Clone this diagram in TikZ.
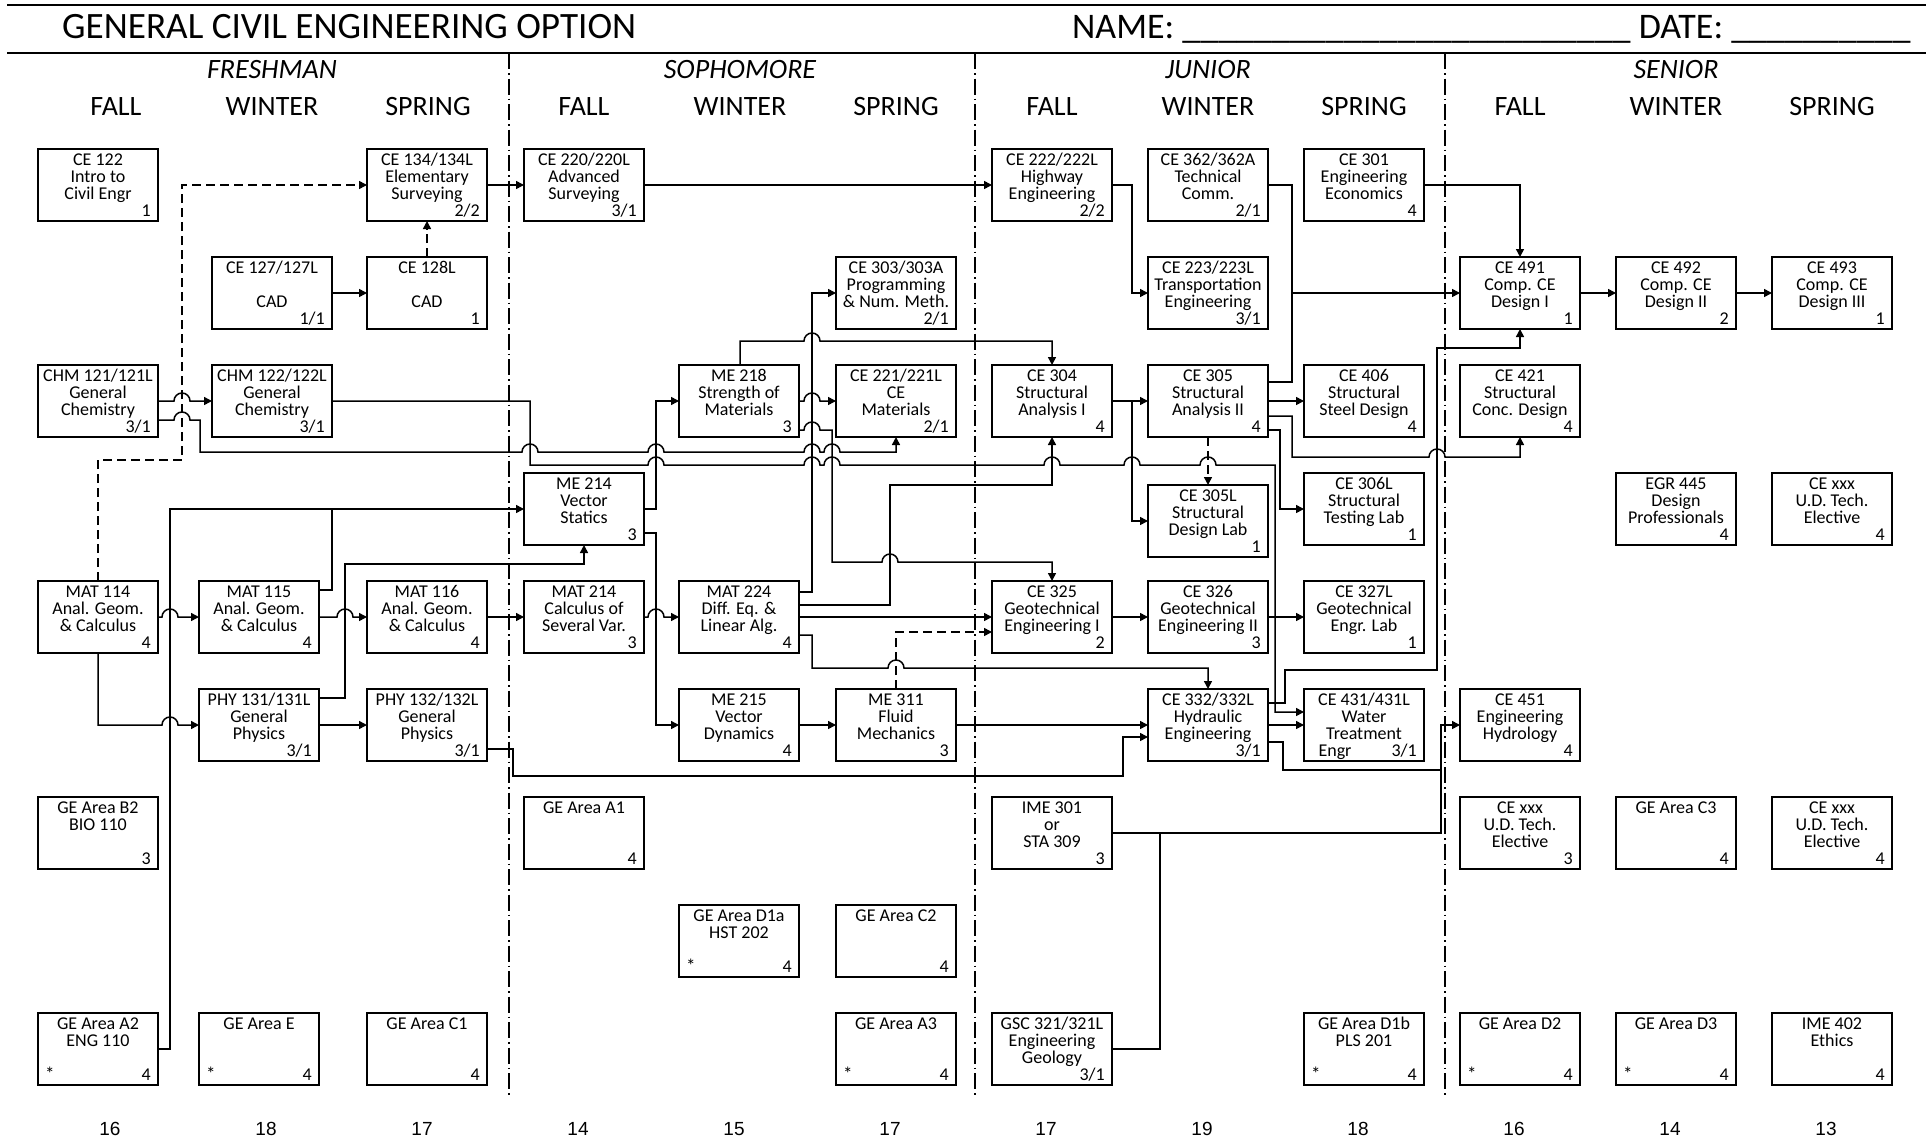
\documentclass[tikz,border=0pt]{standalone}
\usepackage{fontspec}
\setmainfont{Carlito}
\newfontfamily\arialf{Liberation Sans}
\usetikzlibrary{arrows.meta,calc}
\tikzset{
  cbox/.style={draw, line width=1.7pt, minimum width=120pt, minimum height=72pt, inner sep=0pt, outer sep=0pt},
  ctx/.style={anchor=base, inner sep=0pt, font=\fontsize{18}{20}\selectfont},
  ccred/.style={anchor=base east, inner sep=0pt, font=\fontsize{18}{20}\selectfont},
  cstar/.style={anchor=base west, inner sep=0pt, font=\fontsize{19}{20}\selectfont},
  conn/.style={line width=1.5pt, -{Triangle[length=8pt,width=8pt]}},
  link/.style={line width=1.5pt},
  dashconn/.style={conn, dash pattern=on 9pt off 5pt},
  divider/.style={line width=1.4pt, dash pattern=on 16pt off 4pt on 1.5pt off 4pt},
  season/.style={anchor=base, inner sep=0pt, font=\fontsize{28}{30}\selectfont},
  yearlbl/.style={anchor=base, inner sep=0pt, font=\fontsize{28}{30}\selectfont\itshape},
  total/.style={anchor=base, inner sep=0pt, font=\arialf\fontsize{19}{21}\selectfont},
  head/.style={anchor=base west, inner sep=0pt, font=\fontsize{36}{40}\selectfont},
  titlestyle/.style={anchor=base west, inner sep=0pt, font=\fontsize{37.2}{40}\selectfont},
}
% name, x-left, y-top, line1, line2, line3, credits, star
\newcommand\crs[8]{%
  \node[cbox] (#1) at (#2+60,-#3-36) {};
  \node[ctx] (#1-a) at ([yshift=-16.7pt]#1.north) {#4};
  \node[ctx] (#1-b) at ([yshift=-33.3pt]#1.north) {#5};
  \node[ctx] (#1-c) at ([yshift=-50pt]#1.north) {#6};
  \node[ccred] (#1-k) at ([xshift=-7pt,yshift=4.5pt]#1.south east) {#7};
  \node[cstar] (#1-s) at ([xshift=7pt,yshift=4.5pt]#1.south west) {#8};
}
\begin{document}
\begin{tikzpicture}[x=1pt,y=1pt]
\fill[white] (0,0) rectangle (1929,-1140);
\useasboundingbox (0,0) rectangle (1929,-1140);

% header
\draw[line width=2pt] (7,-5) -- (1926,-5);
\draw[line width=2pt] (7,-53) -- (1926,-53);
\node[titlestyle] (title) at (62,-38) {GENERAL CIVIL ENGINEERING OPTION};
\node[head] (namedate) at (1072,-38) {NAME: \_\_\_\_\_\_\_\_\_\_\_\_\_\_\_\_\_\_\_\_\_\_\_\_\_ DATE: \_\_\_\_\_\_\_\_\_\_};

\node[yearlbl] (yr1) at (272,-78) {FRESHMAN};
\node[yearlbl] (yr2) at (740,-78) {SOPHOMORE};
\node[yearlbl] (yr3) at (1208,-78) {JUNIOR};
\node[yearlbl] (yr4) at (1676,-78) {SENIOR};
\foreach \s [count=\i] in {FALL,WINTER,SPRING,FALL,WINTER,SPRING,FALL,WINTER,SPRING,FALL,WINTER,SPRING}
  \node[season] (s\i) at ({116+156*(\i-1)},-115) {\s};
\foreach \t [count=\i] in {16,18,17,14,15,17,17,19,18,16,14,13}
  \node[total] (t\i) at ({110+156*(\i-1)},-1135) {\t};

% dividers
\draw[divider] (509,-53) -- (509,-1095);
\draw[divider] (975,-53) -- (975,-1095);
\draw[divider] (1445,-53) -- (1445,-1095);

% row 1
\crs{c122}{38}{149}{CE 122}{Intro to}{Civil Engr}{1}{}
\crs{c134}{367}{149}{CE 134/134L}{Elementary}{Surveying}{2/2}{}
\crs{c220}{524}{149}{CE 220/220L}{Advanced}{Surveying}{3/1}{}
\crs{c222}{992}{149}{CE 222/222L}{Highway}{Engineering}{2/2}{}
\crs{c362}{1148}{149}{CE 362/362A}{Technical}{Comm.}{2/1}{}
\crs{c301}{1304}{149}{CE 301}{Engineering}{Economics}{4}{}
% row 2
\crs{c127}{212}{257}{CE 127/127L}{}{CAD}{1/1}{}
\crs{c128}{367}{257}{CE 128L}{}{CAD}{1}{}
\crs{c303}{836}{257}{CE 303/303A}{Programming}{\& Num. Meth.}{2/1}{}
\crs{c223}{1148}{257}{CE 223/223L}{Transportation}{Engineering}{3/1}{}
\crs{c491}{1460}{257}{CE 491}{Comp. CE}{Design I}{1}{}
\crs{c492}{1616}{257}{CE 492}{Comp. CE}{Design II}{2}{}
\crs{c493}{1772}{257}{CE 493}{Comp. CE}{Design III}{1}{}
% row 3
\crs{chm121}{38}{365}{CHM 121/121L}{General}{Chemistry}{3/1}{}
\crs{chm122}{212}{365}{CHM 122/122L}{General}{Chemistry}{3/1}{}
\crs{me218}{679}{365}{ME 218}{Strength of}{Materials}{3}{}
\crs{c221}{836}{365}{CE 221/221L}{CE}{Materials}{2/1}{}
\crs{c304}{992}{365}{CE 304}{Structural}{Analysis I}{4}{}
\crs{c305}{1148}{365}{CE 305}{Structural}{Analysis II}{4}{}
\crs{c406}{1304}{365}{CE 406}{Structural}{Steel Design}{4}{}
\crs{c421}{1460}{365}{CE 421}{Structural}{Conc. Design}{4}{}
% row 4
\crs{me214}{524}{473}{ME 214}{Vector}{Statics}{3}{}
\crs{c305L}{1148}{485}{CE 305L}{Structural}{Design Lab}{1}{}
\crs{c306L}{1304}{473}{CE 306L}{Structural}{Testing Lab}{1}{}
\crs{egr445}{1616}{473}{EGR 445}{Design}{Professionals}{4}{}
\crs{cexA}{1772}{473}{CE xxx}{U.D. Tech.}{Elective}{4}{}
% row 5
\crs{mat114}{38}{581}{MAT 114}{Anal. Geom.}{\& Calculus}{4}{}
\crs{mat115}{199}{581}{MAT 115}{Anal. Geom.}{\& Calculus}{4}{}
\crs{mat116}{367}{581}{MAT 116}{Anal. Geom.}{\& Calculus}{4}{}
\crs{mat214}{524}{581}{MAT 214}{Calculus of}{Several Var.}{3}{}
\crs{mat224}{679}{581}{MAT 224}{Diff. Eq. \&}{Linear Alg.}{4}{}
\crs{c325}{992}{581}{CE 325}{Geotechnical}{Engineering I}{2}{}
\crs{c326}{1148}{581}{CE 326}{Geotechnical}{Engineering II}{3}{}
\crs{c327}{1304}{581}{CE 327L}{Geotechnical}{Engr. Lab}{1}{}
% row 6
\crs{phy131}{199}{689}{PHY 131/131L}{General}{Physics}{3/1}{}
\crs{phy132}{367}{689}{PHY 132/132L}{General}{Physics}{3/1}{}
\crs{me215}{679}{689}{ME 215}{Vector}{Dynamics}{4}{}
\crs{me311}{836}{689}{ME 311}{Fluid}{Mechanics}{3}{}
\crs{c332}{1148}{689}{CE 332/332L}{Hydraulic}{Engineering}{3/1}{}
\crs{c431}{1304}{689}{CE 431/431L}{Water}{Treatment}{3/1}{}
\node[ctx] (c431-d) at ([xshift=-29pt,yshift=4.5pt]c431.south) {Engr};
\crs{c451}{1460}{689}{CE 451}{Engineering}{Hydrology}{4}{}
% row 7
\crs{geB2}{38}{797}{GE Area B2}{BIO 110}{}{3}{}
\crs{geA1}{524}{797}{GE Area A1}{}{}{4}{}
\crs{ime301}{992}{797}{IME 301}{or}{STA 309}{3}{}
\crs{cexB}{1460}{797}{CE xxx}{U.D. Tech.}{Elective}{3}{}
\crs{geC3}{1616}{797}{GE Area C3}{}{}{4}{}
\crs{cexC}{1772}{797}{CE xxx}{U.D. Tech.}{Elective}{4}{}
% row 8
\crs{geD1a}{679}{905}{GE Area D1a}{HST 202}{}{4}{*}
\crs{geC2}{836}{905}{GE Area C2}{}{}{4}{}
% row 9
\crs{geA2}{38}{1013}{GE Area A2}{ENG 110}{}{4}{*}
\crs{geE}{199}{1013}{GE Area E}{}{}{4}{*}
\crs{geC1}{367}{1013}{GE Area C1}{}{}{4}{}
\crs{geA3}{836}{1013}{GE Area A3}{}{}{4}{*}
\crs{gsc321}{992}{1013}{GSC 321/321L}{Engineering}{Geology}{3/1}{}
\crs{geD1b}{1304}{1013}{GE Area D1b}{PLS 201}{}{4}{*}
\crs{geD2}{1460}{1013}{GE Area D2}{}{}{4}{*}
\crs{geD3}{1616}{1013}{GE Area D3}{}{}{4}{*}
\crs{ime402}{1772}{1013}{IME 402}{Ethics}{}{4}{}

\coordinate (j362) at (1292,-293);
\coordinate (j451) at (1441,-770);
\coordinate (j214) at (332,-509);
\coordinate (jgsc) at (1160,-833);

% freshman connectors
\draw[dashconn] (mat114.north) -- (98,-460) -- (182,-460) -- (182,-185) -- (c134.west);
\draw[dashconn] (c128.north) -- (c134.south);
\draw[conn] (c127.east) -- (c128.west);
\draw[conn] (c134.east) -- (c220.west);
\draw[conn] (c220.east) -- (c222.west);
\draw[conn] (chm121.east) -- (174,-401) arc[start angle=180,end angle=0,radius=8pt] -- (chm122.west);
\draw[conn] ([yshift=-19pt]chm121.east) -- (174,-420) arc[start angle=180,end angle=0,radius=8pt] -- (200,-420) -- (200,-452)
  -- (522,-452) arc[start angle=180,end angle=0,radius=8pt]
  -- (648,-452) arc[start angle=180,end angle=0,radius=8pt]
  -- (804,-452) arc[start angle=180,end angle=0,radius=8pt]
  -- (824,-452) arc[start angle=180,end angle=0,radius=8pt]
  -- (896,-452) -- (c221.south);
\draw[conn] (chm122.east) -- (530,-401) -- (530,-465)
  -- (648,-465) arc[start angle=180,end angle=0,radius=8pt]
  -- (804,-465) arc[start angle=180,end angle=0,radius=8pt]
  -- (824,-465) arc[start angle=180,end angle=0,radius=8pt]
  -- (1044,-465) arc[start angle=180,end angle=0,radius=8pt]
  -- (1124,-465) arc[start angle=180,end angle=0,radius=8pt]
  -- (1200,-465) arc[start angle=180,end angle=0,radius=8pt]
  -- (1275,-465) -- (1275,-712) -- ([yshift=13pt]c431.west);
\draw[conn] (mat114.east) -- (162,-617) arc[start angle=180,end angle=0,radius=8pt] -- (mat115.west);
\draw[conn] (mat114.south) -- (98,-725) -- (162,-725) arc[start angle=180,end angle=0,radius=8pt] -- (phy131.west);
\draw[conn] (geA2.east) -- (170,-1049) -- (170,-509) -- (me214.west);
\draw[link] ([yshift=27pt]mat115.east) -- (332,-590) -- (j214);
\draw[conn] ([yshift=27pt]phy131.east) -- (345,-698) -- (345,-564) -- (584,-564) -- (me214.south);
\draw[conn] (mat115.east) -- (337,-617) arc[start angle=180,end angle=0,radius=8pt] -- (mat116.west);
\draw[conn] (phy131.east) -- (phy132.west);
\draw[conn] (mat116.east) -- (mat214.west);
\draw[conn] ([yshift=-24pt]phy132.east) -- (513,-749) -- (513,-776) -- (1123,-776) -- (1123,-737) -- ([yshift=-12pt]c332.west);

% sophomore connectors
\draw[conn] (me214.east) -- (656,-509) -- (656,-401) -- (me218.west);
\draw[conn] ([yshift=-24pt]me214.east) -- (656,-533) -- (656,-725) -- (me215.west);
\draw[conn] (mat214.east) -- (648,-617) arc[start angle=180,end angle=0,radius=8pt] -- (mat224.west);
\draw[conn] (me218.east) -- (804,-401) arc[start angle=180,end angle=0,radius=8pt] -- (c221.west);
\draw[conn] ([yshift=-29pt]me218.east) -- (804,-430) arc[start angle=180,end angle=0,radius=8pt] -- (832,-430) -- (832,-562)
  -- (882,-562) arc[start angle=180,end angle=0,radius=8pt] -- (1052,-562) -- (c325.north);
\draw[conn] ([xshift=1pt]me218.north) -- (740,-341) -- (804,-341) arc[start angle=180,end angle=0,radius=8pt] -- (1052,-341) -- (c304.north);
\draw[conn] ([yshift=25pt]mat224.east) -- (812,-592) -- (812,-293) -- (c303.west);
\draw[conn] ([yshift=12pt]mat224.east) -- (890,-605) -- (890,-485) -- (1052,-485) -- (c304.south);
\draw[conn] (mat224.east) -- (c325.west);
\draw[conn] ([yshift=-18pt]mat224.east) -- (812,-635) -- (812,-668) -- (888,-668) arc[start angle=180,end angle=0,radius=8pt] -- (1208,-668) -- (c332.north);
\draw[dashconn] (me311.north) -- (896,-632) -- ([yshift=-15pt]c325.west);
\draw[conn] (me215.east) -- (me311.west);
\draw[conn] (me311.east) -- (c332.west);

% junior connectors
\draw[conn] (c222.east) -- (1132,-185) -- (1132,-293) -- (c223.west);
\draw[link] (c362.east) -- (1292,-185) -- (1292,-382) -- ([yshift=19pt]c305.east);
\draw[conn] (j362) -- (c491.west);
\draw[conn] (c301.east) -| (c491.north);
\draw[conn] (c304.east) -- (c305.west);
\draw[conn] (c304.east) -- (1132,-401) -- (1132,-521) -- (c305L.west);
\draw[dashconn] (c305.south) -- (c305L.north);
\draw[conn] (c305.east) -- (c406.west);
\draw[conn] ([yshift=-29pt]c305.east) -- (1280,-430) -- (1280,-509) -- (c306L.west);
\draw[conn] ([yshift=-15pt]c305.east) -- (1292,-416) -- (1292,-457) -- (1429,-457) arc[start angle=180,end angle=0,radius=8pt] -- (1520,-457) -- (c421.south);
\draw[conn] ([yshift=22pt]c332.east) -- (1285,-703) -- (1285,-670) -- (1437,-670) -- (1437,-348) -- (1520,-348) -- (c491.south);
\draw[conn] (c332.east) -- (c431.west);
\draw[conn] ([yshift=-17pt]c332.east) -- (1283,-742) -- (1283,-770) -- (j451) -- (1441,-725) -- (c451.west);
\draw[link] (ime301.east) -- (1441,-833) -- (j451);
\draw[link] (gsc321.east) -- (1160,-1049) -- (jgsc);
\draw[conn] (c325.east) -- (c326.west);
\draw[conn] (c326.east) -- (c327.west);

% senior connectors
\draw[conn] (c491.east) -- (c492.west);
\draw[conn] (c492.east) -- (c493.west);
\end{tikzpicture}
\end{document}
